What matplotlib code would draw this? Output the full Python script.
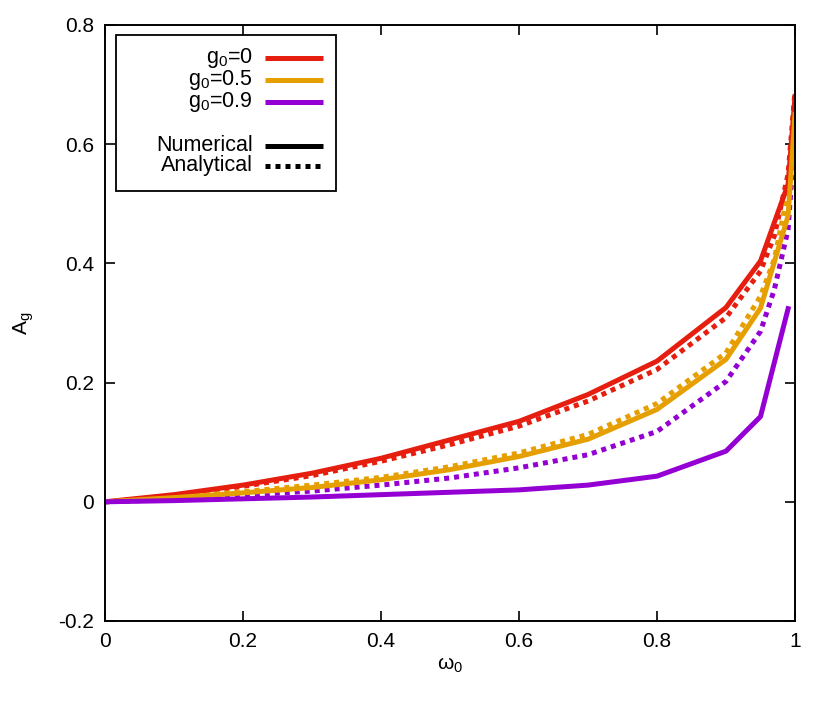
import matplotlib
matplotlib.use('Agg')
import matplotlib.pyplot as plt
from matplotlib.patches import Rectangle

plt.rcParams['font.family'] = ['Liberation Sans', 'DejaVu Sans']
plt.rcParams['mathtext.default'] = 'regular'

# numerical results (omega_0 grid)
x_num = [0, 0.1, 0.2, 0.3, 0.4, 0.5, 0.6, 0.7, 0.8, 0.9, 0.95, 0.99, 1.0]
red_num = [0, 0.012, 0.028, 0.048, 0.073, 0.104, 0.135, 0.18, 0.236, 0.326, 0.404, 0.533, 0.68]
orange_num = [0, 0.007, 0.015, 0.024, 0.037, 0.054, 0.076, 0.105, 0.155, 0.239, 0.325, 0.48, 0.65]
x_num_purple = [0, 0.1, 0.2, 0.3, 0.4, 0.5, 0.6, 0.7, 0.8, 0.9, 0.95, 0.99]
purple_num = [0, 0.002, 0.005, 0.008, 0.012, 0.016, 0.02, 0.028, 0.043, 0.085, 0.143, 0.324]

# analytical curves
x_ana = [0, 0.1, 0.2, 0.3, 0.4, 0.5, 0.6, 0.7, 0.8, 0.9, 0.95, 0.97, 0.99, 1.0]
red_ana = [0, 0.01, 0.026, 0.044, 0.068, 0.096, 0.127, 0.169, 0.222, 0.309, 0.387, 0.446, 0.55, 0.69]
orange_ana = [0, 0.008, 0.017, 0.028, 0.041, 0.059, 0.082, 0.113, 0.165, 0.25, 0.345, 0.407, 0.52, 0.655]
purple_ana = [0, 0.004, 0.011, 0.018, 0.028, 0.04, 0.057, 0.079, 0.118, 0.202, 0.286, 0.356, 0.457, 0.62]

labels = ['g$_0$=0', 'g$_0$=0.5', 'g$_0$=0.9']
colors = ['#e51e10', '#e69f00', '#9400d3']

xticks = [0, 0.2, 0.4, 0.6, 0.8, 1]
xticklabels = ['0', '0.2', '0.4', '0.6', '0.8', '1']
yticks = [-0.2, 0, 0.2, 0.4, 0.6, 0.8]
yticklabels = ['-0.2', '0', '0.2', '0.4', '0.6', '0.8']

fig = plt.figure(figsize=(8.3, 7.12), dpi=100)
ax = fig.add_axes([105 / 830, 1 - 621 / 712, 690 / 830, 596 / 712])

lw = 3.6
dot = (0, (1, 1))

ax.plot(x_ana, red_ana, color=colors[0], lw=lw, ls=dot, dash_capstyle='butt')
ax.plot(x_ana, orange_ana, color=colors[1], lw=lw, ls=dot, dash_capstyle='butt')
ax.plot(x_ana, purple_ana, color=colors[2], lw=lw, ls=dot, dash_capstyle='butt')
ax.plot(x_num, red_num, color=colors[0], lw=lw)
ax.plot(x_num, orange_num, color=colors[1], lw=lw)
ax.plot(x_num_purple, purple_num, color=colors[2], lw=lw)

ax.set_xlim(0, 1)
ax.set_ylim(-0.2, 0.8)
ax.set_xticks(xticks)
ax.set_xticklabels(xticklabels)
ax.set_yticks(yticks)
ax.set_yticklabels(yticklabels)
ax.tick_params(direction='in', length=7, width=1.2, top=True, right=True,
               labelsize=15, pad=8)
for s in ax.spines.values():
    s.set_linewidth(1.4)

ax.set_xlabel('$\\omega_0$', fontsize=15)
ax.set_ylabel('A$_g$', fontsize=15)
ax.xaxis.set_label_coords(0.5, -0.058)
ax.yaxis.set_label_coords(-0.1, 0.5)

# legend box drawn in axes coordinates, text right aligned like gnuplot
ax.add_patch(Rectangle((0.0155, 0.722), 0.3195, 0.261, transform=ax.transAxes,
                       facecolor='white', edgecolor='black', lw=1.3, zorder=5))
rows = [0.945, 0.908, 0.871]
for lab, c, yy in zip(labels, colors, rows):
    ax.text(0.214, yy, lab, transform=ax.transAxes, ha='right', va='center',
            fontsize=15.5, zorder=6)
    ax.plot([0.232, 0.316], [yy, yy], transform=ax.transAxes, color=c,
            lw=lw, zorder=6, solid_capstyle='butt')
for lab, ls, yy in zip(['Numerical', 'Analytical'], ['-', dot], [0.797, 0.764]):
    ax.text(0.214, yy, lab, transform=ax.transAxes, ha='right', va='center',
            fontsize=15.5, zorder=6)
    ax.plot([0.232, 0.316], [yy, yy], transform=ax.transAxes, color='black',
            lw=lw, ls=ls, zorder=6, solid_capstyle='butt', dash_capstyle='butt')

fig.savefig('out.png', dpi=100)
